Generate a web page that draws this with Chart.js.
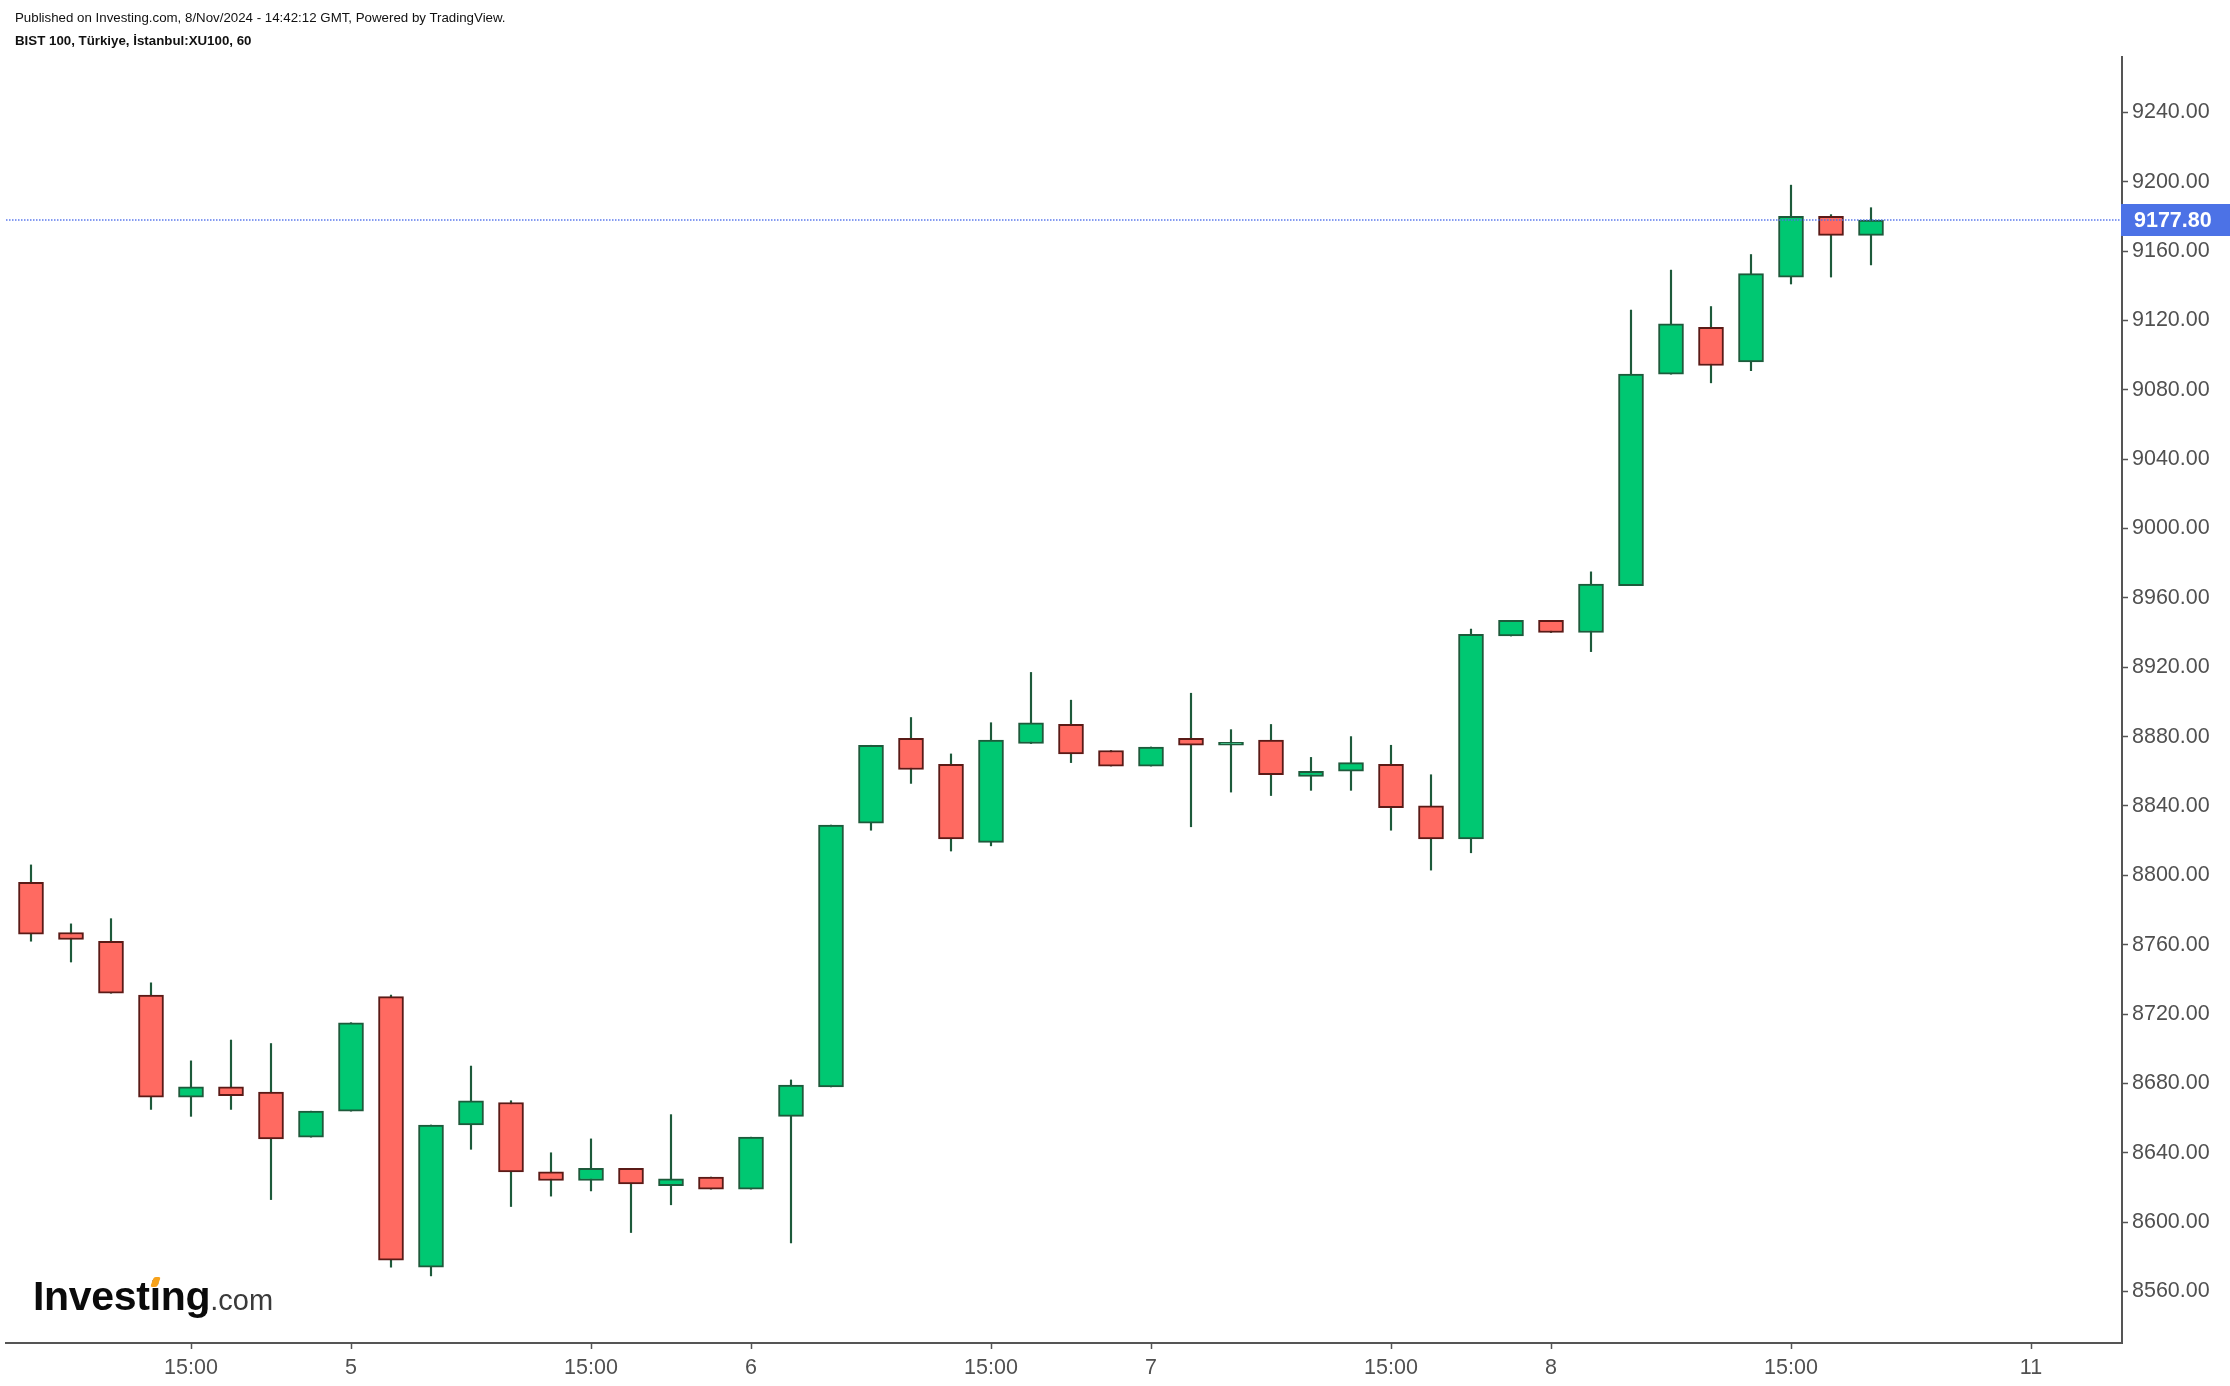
<!DOCTYPE html>
<html>
<head>
<meta charset="utf-8">
<script src="https://cdn.jsdelivr.net/npm/chart.js@4.4.1/dist/chart.umd.min.js"></script>
<style>
    body { margin: 0; background: #fff; width: 2230px; height: 1386px; overflow: hidden; position: relative; font-family: "Liberation Sans", Arial, sans-serif; }
    #wrap { position: absolute; left: 0; top: 0; width: 2230px; height: 1386px; }
    .hdr { position: absolute; left: 15px; font-size: 13.3px; line-height: 16px; color: #111; white-space: nowrap; }
    #logo { position: absolute; left: 33px; top: 1276px; line-height: 40px; white-space: nowrap; color: #0b0b0b; }
    #logo .big { font-size: 41px; font-weight: bold; letter-spacing: -0.3px; }
    #logo .small { font-size: 29px; color: #3a3a3a; }
    #logo .i { position: relative; }
    #logo .dot { position: absolute; left: 2px; top: 4px; width: 7px; height: 10px; background: #f7a21b; border-radius: 2px; transform: skewX(-20deg); }
</style>
</head>
<body>
<div id="wrap"><canvas id="myChart"></canvas></div>
<div class="hdr" style="top:10px">Published on Investing.com, 8/Nov/2024 - 14:42:12 GMT, Powered by TradingView.</div>
<div class="hdr" style="top:33px;font-weight:bold">BIST 100, Türkiye, İstanbul:XU100, 60</div>
<div id="logo"><span class="big">Invest<span class="i">i<span class="dot"></span></span>ng</span><span class="small">.com</span></div>
<script>
// hourly candles, 4 Nov 11:00 -> 8 Nov 17:00
const opens  = [8796, 8767, 8762, 8731, 8672, 8678, 8675, 8649, 8664, 8730,
                8574, 8656, 8669, 8629, 8624, 8631, 8621, 8626, 8619, 8661,
                8678, 8830, 8879, 8864, 8819, 8876, 8887, 8872, 8863, 8879,
                8875, 8878, 8857, 8860, 8864, 8840, 8821, 8938, 8947, 8940,
                8967, 9089, 9116, 9096, 9145, 9180, 9169];
const highs  = [8806, 8772, 8775, 8738, 8693, 8705, 8703, 8664, 8715, 8731,
                8656, 8690, 8670, 8640, 8648, 8631, 8662, 8626, 8649, 8682,
                8829, 8875, 8891, 8870, 8888, 8917, 8901, 8872, 8874, 8905,
                8884, 8887, 8868, 8880, 8875, 8858, 8942, 8947, 8947, 8975,
                9126, 9149, 9128, 9158, 9198, 9181, 9185];
const lows   = [8762, 8750, 8732, 8665, 8661, 8665, 8613, 8649, 8664, 8574,
                8569, 8642, 8609, 8615, 8618, 8594, 8610, 8619, 8619, 8588,
                8678, 8826, 8853, 8814, 8817, 8876, 8865, 8863, 8863, 8828,
                8848, 8846, 8849, 8849, 8826, 8803, 8813, 8938, 8940, 8929,
                8967, 9089, 9084, 9091, 9141, 9145, 9152];
const closes = [8766, 8763, 8732, 8672, 8678, 8673, 8648, 8664, 8715, 8578,
                8656, 8670, 8629, 8624, 8631, 8622, 8625, 8619, 8649, 8679,
                8829, 8875, 8861, 8821, 8878, 8888, 8870, 8863, 8874, 8875,
                8876, 8858, 8860, 8865, 8839, 8821, 8939, 8947, 8940, 8968,
                9089, 9118, 9094, 9147, 9180, 9169, 9177.8];

const xTickPos    = [4, 8, 14, 18, 24, 28, 34, 38, 44, 50];
const xTickLabels = ['15:00', '5', '15:00', '6', '15:00', '7', '15:00', '8', '15:00', '11'];
const yTicks      = [8560, 8600, 8640, 8680, 8720, 8760, 8800, 8840, 8880, 8920,
                     8960, 9000, 9040, 9080, 9120, 9160, 9200, 9240];

const green = '#00c872', greenEdge = '#1d5a3b';
const red = '#ff6a61', redEdge = '#5a1a16';
const wickColor = '#1d5a3b';
const axisColor = '#555555', labelColor = '#505050';
const fontFam = '"Liberation Sans", Arial, sans-serif';

function isUp(i) {
    return closes[i] >= opens[i];
}

const lastPrice = {
    id: 'lastPrice',
    afterDraw(chart) {
        const ctx = chart.ctx;
        const area = chart.chartArea;
        const v = closes[closes.length - 1];
        const y = Math.round(chart.scales.y.getPixelForValue(v));
        ctx.save();
        ctx.strokeStyle = 'rgba(80, 112, 235, 0.7)';
        ctx.lineWidth = 2;
        ctx.setLineDash([1.5, 1.5]);
        ctx.beginPath();
        ctx.moveTo(area.left, y);
        ctx.lineTo(area.right, y);
        ctx.stroke();
        ctx.setLineDash([]);
        ctx.fillStyle = '#4c72e6';
        ctx.fillRect(area.right - 1, y - 16, chart.width - area.right + 1, 32);
        ctx.fillStyle = '#ffffff';
        ctx.font = 'bold 21.5px ' + fontFam;
        ctx.textBaseline = 'middle';
        ctx.textAlign = 'left';
        ctx.fillText(v.toFixed(2), area.right + 12, y + 1);
        ctx.restore();
    }
};

const ctx = document.getElementById('myChart').getContext('2d');
const myChart = new Chart(ctx, {
    type: 'bar',
    data: {
        datasets: [{
            label: 'body',
            data: opens.map((o, i) => ({ x: i, y: [o, closes[i]] })),
            backgroundColor: opens.map((o, i) => isUp(i) ? green : red),
            borderColor: opens.map((o, i) => isUp(i) ? greenEdge : redEdge),
            borderWidth: 2,
            borderSkipped: false,
            barThickness: 25,
            minBarLength: 3,
            grouped: false,
            order: 1
        }, {
            label: 'wick',
            data: lows.map((l, i) => ({ x: i, y: [l, highs[i]] })),
            backgroundColor: wickColor,
            borderWidth: 0,
            barThickness: 1.5,
            grouped: false,
            order: 2
        }]
    },
    plugins: [lastPrice],
    options: {
        responsive: true,
        maintainAspectRatio: false,
        animation: false,
        layout: { padding: { top: 57, left: 6, right: 0, bottom: 0 } },
        plugins: {
            legend: { display: false },
            tooltip: { enabled: false }
        },
        scales: {
            x: {
                type: 'linear',
                min: -0.625,
                max: 52.275,
                offset: false,
                grid: { offset: false, drawOnChartArea: false, drawTicks: true, tickLength: 6, tickColor: axisColor, tickWidth: 1.5 },
                border: { display: true, color: axisColor, width: 2 },
                ticks: {
                    color: labelColor,
                    font: { size: 21.5, family: fontFam },
                    maxRotation: 0,
                    autoSkip: false,
                    padding: 6,
                    callback: (v, idx) => xTickLabels[idx]
                },
                afterBuildTicks: s => { s.ticks = xTickPos.map(v => ({ value: v })); },
                afterFit: s => { s.height = 43; }
            },
            y: {
                position: 'right',
                min: 8530.3,
                max: 9271.9,
                grid: { drawOnChartArea: false, drawTicks: true, tickLength: 6, tickColor: axisColor, tickWidth: 1.5 },
                border: { display: true, color: axisColor, width: 2 },
                ticks: {
                    color: labelColor,
                    font: { size: 21.5, family: fontFam },
                    padding: 4,
                    callback: v => v.toFixed(2)
                },
                afterBuildTicks: s => { s.ticks = yTicks.map(v => ({ value: v })); },
                afterFit: s => { s.width = 108; }
            }
        }
    }
});
</script>
</body>
</html>
